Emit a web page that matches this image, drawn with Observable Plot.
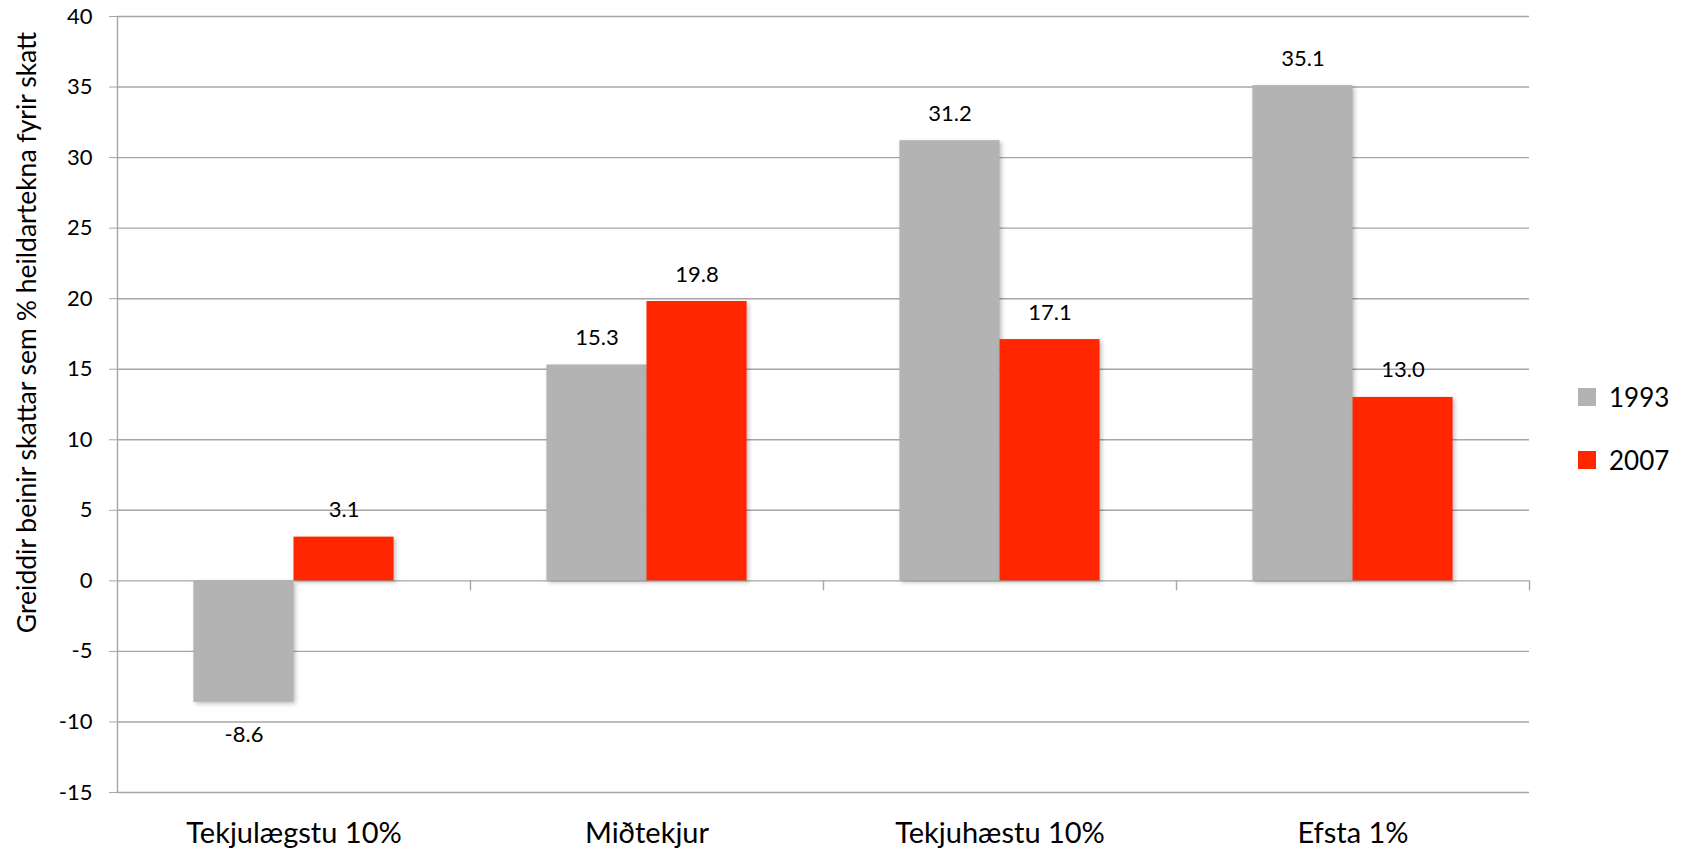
<!DOCTYPE html>
<html><head><meta charset="utf-8">
<script src="https://cdn.jsdelivr.net/npm/d3@7"></script>
<script src="https://cdn.jsdelivr.net/npm/@observablehq/plot@0.6"></script>
<style>
body{margin:0;background:#fff;font-family:Lato,"Open Sans",sans-serif;}
#wrap{position:relative;width:1683px;height:849px;}
#legend{position:absolute;left:1578px;top:381px;}
#legend .lg-swatch{margin-bottom:30px;}
.bars rect{filter:drop-shadow(2px 2px 2px rgba(0,0,0,0.25));}
</style></head><body><div id="wrap"></div>
<script>
const categories = ["Tekjulægstu 10%", "Miðtekjur", "Tekjuhæstu 10%", "Efsta 1%"];
const years = ["1993", "2007"];
const values1993 = [-8.6, 15.3, 31.2, 35.1];
const values2007 = [3.1, 19.8, 17.1, 13.0];
const yTicks = [-15, -10, -5, 0, 5, 10, 15, 20, 25, 30, 35, 40];
const colors = ["#b3b3b3", "#ff2600"];
const yTitle = "Greiddir beinir skattar sem % heildartekna fyrir skatt";

const data = categories.flatMap((c, i) => [
  {category: c, year: years[0], value: values1993[i]},
  {category: c, year: years[1], value: values2007[i]}
]);

const W = 1683, H = 849, mL = 117, mR = 154, mT = 16, mB = 57;
const bw = (W - mL - mR) / categories.length;
const barW = bw * 0.2835;
const gap = (bw - 2 * barW) / 2;
const gridColor = "#a6a6a6";

function yearMarks(year, k) {
  const rows = data.filter(d => d.year === year);
  const left = gap + k * barW;
  const dx = left + barW / 2 - bw / 2;
  return [
    Plot.barY(rows, {x: "category", y: "value", fill: "year", insetLeft: left, insetRight: bw - left - barW, className: "bars"}),
    Plot.text(rows.filter(d => d.value >= 0), {x: "category", y: "value", text: d => d.value.toFixed(1), dx, dy: -27, fontSize: 22}),
    Plot.text(rows.filter(d => d.value < 0), {x: "category", y: "value", text: d => d.value.toFixed(1), dx, dy: 33, fontSize: 22})
  ];
}

const chart = Plot.plot({
  width: W, height: H,
  marginLeft: mL, marginRight: mR, marginTop: mT, marginBottom: mB,
  style: {fontFamily: "Lato, 'Open Sans', sans-serif", fontSize: "22px", color: "#000", background: "#fff"},
  x: {domain: categories, padding: 0, label: null},
  y: {domain: [-15, 40], label: null},
  color: {domain: years, range: colors},
  marks: [
    Plot.gridY(yTicks, {stroke: gridColor, strokeOpacity: 1, strokeWidth: 1.4}),
    Plot.ruleX([categories[0]], {x: d => d, dx: -bw / 2, stroke: gridColor, strokeWidth: 1.4}),
    Plot.ruleX(categories, {x: d => d, dx: bw / 2, y1: 0, y2: 0, insetBottom: -10, stroke: gridColor, strokeWidth: 1.4}),
    Plot.axisY(yTicks, {tickSize: 8, tickPadding: 17, stroke: gridColor, strokeOpacity: 1, fill: "#000", fontSize: 22, tickFormat: d => `${d}`}),
    Plot.axisX({tickSize: 0, tickPadding: 30, fontSize: 29, fill: "#000"}),
    Plot.text([yTitle], {frameAnchor: "left", textAnchor: "middle", rotate: -90, dx: -90, dy: -72, fontSize: 26.5, fill: "#000"}),
    ...yearMarks(years[0], 0),
    ...yearMarks(years[1], 1)
  ]
});
const wrap = document.getElementById("wrap");
wrap.appendChild(chart);

const legend = Plot.legend({
  color: {domain: years, range: colors},
  legend: "swatches", columns: 1, swatchSize: 18, className: "lg",
  style: {fontFamily: "Lato, 'Open Sans', sans-serif", fontSize: "26px", color: "#000"}
});
const ld = document.createElement("div");
ld.id = "legend";
ld.appendChild(legend);
wrap.appendChild(ld);
</script></body></html>
